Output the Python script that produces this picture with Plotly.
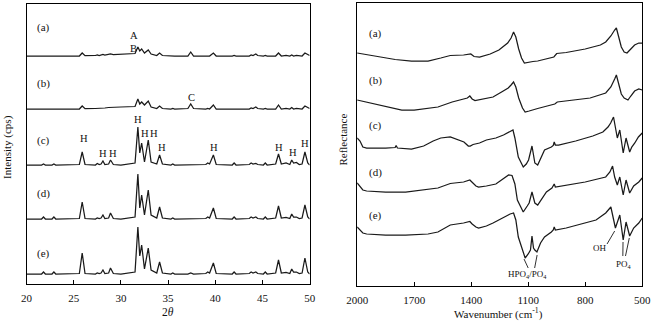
import plotly.graph_objects as go

# ---------------- XRD data (left panel) ----------------
two_theta = [20.0, 21.6, 21.8, 22.0, 22.7, 22.9, 23.1, 25.6, 25.9, 26.2,
             27.3, 27.5, 27.7, 27.9, 28.1, 28.3, 28.7, 28.9, 29.2, 30.0,
             31.5, 31.8, 32.0, 32.2, 32.5, 32.9, 33.2, 33.8, 34.1, 34.4,
             35.3, 35.5, 35.7, 37.1, 37.4, 37.7, 39.0, 39.2, 39.4, 39.8,
             40.1, 41.8, 42.0, 42.2, 43.6, 43.8, 44.0, 44.3, 44.5, 45.1,
             45.3, 45.5, 46.4, 46.7, 47.0, 47.5, 47.9, 48.1, 48.3, 48.6,
             48.9, 49.2, 49.5, 49.8, 50.0]

xrd_a = [0, 0, 0.5, 0, 0, 0.5, 0, 0, 3, 0.3,
         0.5, 1, 0.5, 1, 1.5, 1, 1.5, 2, 1.5, 2,
         2.5, 9, 5, 7, 3, 6, 2, 0.5, 3, 0.5,
         0, 0.5, 0, 0, 4, 0, 0, 0.5, 0, 3,
         0, 0, 0.5, 0, 0, 1, 0.5, 2, 0.5, 0,
         0.5, 0, 0, 3, 0, 0.5, 0, 1, 0, 0.5,
         0, 0, 3, 1, 0.5]
xrd_b = [0, 0, 0.5, 0, 0, 0.5, 0, 0, 3, 0.3,
         0.5, 0.5, 0.5, 1, 1, 1, 1.5, 1.5, 1.5, 2,
         2.5, 10, 5, 7, 4, 8, 2, 0.5, 3, 0.5,
         0, 0.5, 0, 0.5, 5, 0.5, 0, 0.5, 0, 4,
         0, 0, 0.5, 0, 0, 1, 0.5, 2, 0.5, 0,
         0.5, 0, 0, 4, 0, 0.5, 0, 1.5, 0, 0.5,
         0, 0, 3, 1, 0.5]
xrd_c = [0, 0, 1, 0, 0, 1, 0, 0.5, 13, 0.5,
         0, 1.5, 0.5, 1, 4, 0.5, 1, 5, 0.5, 0,
         2, 38, 12, 22, 3, 25, 3, 1, 10, 1,
         0, 1, 0, 0, 0.5, 0, 0.5, 2, 1, 10,
         0.5, 0, 2, 0, 0.5, 2, 1, 1.5, 0.5, 0,
         2, 0, 1, 11, 1, 2, 0.5, 5, 2, 2.5,
         0.5, 1, 13, 2, 0]
xrd_d = [0, 0, 2, 0, 0, 2, 0, 0.5, 17, 0.5,
         0, 1, 0.5, 1, 4, 0.5, 1, 6, 0.5, 0,
         2, 45, 11, 24, 4, 29, 4, 1, 12, 1,
         0, 1, 0, 0, 0.5, 0, 0.5, 2, 1, 11,
         0.5, 0, 2, 0, 0.5, 2, 1, 2, 0.5, 0,
         2, 0, 1, 13, 1, 1.5, 0.5, 5, 2, 2,
         0.5, 1, 14, 2, 0]
xrd_e = [0, 0, 2, 0, 0, 2, 0, 0.5, 21, 0.5,
         0, 1, 0.5, 1, 4, 0.5, 1, 6, 0.5, 0,
         2, 47, 18, 29, 5, 26, 4, 1, 12, 1,
         0, 1, 0, 0, 1, 0, 0.5, 2, 1, 11,
         0.5, 0, 2, 0, 0.5, 2, 1, 2, 0.5, 0,
         2, 0, 1, 14, 1, 1.5, 0.5, 5, 2, 2,
         0.5, 1, 16, 2, 0]
xrd_series = [xrd_a, xrd_b, xrd_c, xrd_d, xrd_e]
xrd_offsets = [228, 175, 119, 65, 10]
sample_labels = ["(a)", "(b)", "(c)", "(d)", "(e)"]

h_theta = [26.05, 28.1, 29.15, 31.8, 32.55, 33.55, 34.35, 39.85, 46.8, 48.25, 49.5]
h_level = [146, 131, 131, 165, 151, 151, 137, 137, 137, 132, 141]

# ---------------- IR data (right panel) ----------------
ir_a_x = [2000, 1900, 1800, 1714, 1627, 1560, 1510, 1440, 1402, 1385, 1356, 1300, 1254, 1208, 1190,
          1177, 1165, 1150, 1135, 1120, 1100, 1075, 1050, 1000, 965, 950, 900, 800, 720, 692, 665,
          645, 636, 625, 610, 595, 580, 560, 540, 518, 500]
ir_a_y = [233, 229.5, 226.5, 225, 225, 228, 230.5, 231, 232, 229.5, 229, 232, 236, 243, 248,
          254, 249, 237, 228, 223, 224, 224.5, 225, 227, 229, 232.5, 233.5, 237, 241, 244, 250,
          256, 258, 250, 239, 234, 233, 237, 241, 243, 243]

ir_b_x = [2000, 1900, 1765, 1700, 1575, 1500, 1458, 1420, 1407, 1395, 1380, 1340, 1285, 1240, 1205,
          1190, 1177, 1165, 1150, 1130, 1116, 1095, 1080, 1050, 1000, 960, 947, 900, 774, 692, 665,
          645, 636, 625, 610, 595, 585, 575, 560, 540, 518, 500]
ir_b_y = [186, 182, 176, 176, 179, 184, 186, 188, 190, 187, 185.5, 187, 189, 194, 198,
          201, 204, 199, 188, 178, 174, 175, 176, 177.5, 180, 182, 184, 185, 188, 193, 199,
          207, 211, 203, 192, 188, 187, 186, 190, 195, 197, 196]

ir_c_x = [2000, 1985, 1970, 1950, 1850, 1800, 1795, 1788, 1714, 1650, 1600, 1560, 1510, 1470, 1438,
          1415, 1405, 1390, 1356, 1320, 1270, 1230, 1200, 1180, 1170, 1152, 1126, 1110, 1098, 1088,
          1080, 1072, 1065, 1050, 1030, 1014, 978, 968, 963, 957, 940, 850, 760, 707, 680, 666,
          651, 640, 631, 618, 600, 585, 566, 555, 539, 520, 500]
ir_c_y = [148, 145, 139, 138, 138, 138.5, 140.5, 138, 137, 140, 145, 148, 149, 146.5, 144,
          140, 140, 141.5, 143, 146, 148, 151, 154, 156, 148, 129, 119, 122, 126, 134,
          140, 131, 123, 121, 129, 136, 139, 140.5, 144, 141, 141, 145, 150, 154, 159, 163,
          169, 158, 148, 156, 133, 148, 134, 139, 143, 149, 153]

ir_d_x = [2000, 1985, 1970, 1950, 1850, 1745, 1650, 1575, 1510, 1440, 1407, 1395, 1375, 1361, 1320,
          1270, 1230, 1203, 1185, 1170, 1157, 1126, 1105, 1095, 1080, 1072, 1065, 1050, 1030, 1004,
          975, 963, 957, 900, 800, 692, 670, 656, 645, 631, 618, 600, 585, 566, 545, 518, 500]
ir_d_y = [103, 100, 96, 95, 94, 94, 96, 98, 102.5, 104, 106, 104, 100, 99, 100,
          102, 107, 111, 110.5, 102, 86, 74, 80, 83, 94, 86, 83, 81, 87, 94,
          98, 102, 99, 101, 104, 109, 114, 120, 109, 101, 109, 91, 106, 93, 100, 104, 108]

ir_e_x = [2000, 1985, 1970, 1950, 1850, 1745, 1627, 1575, 1510, 1440, 1407, 1395, 1375, 1361, 1320,
          1285, 1230, 1195, 1177, 1165, 1152, 1130, 1116, 1100, 1088, 1080, 1072, 1065, 1054, 1035,
          1014, 978, 968, 963, 957, 900, 800, 743, 692, 680, 665, 641, 618, 600, 585, 566, 545,
          518, 500]
ir_e_y = [59, 56, 53, 52, 51, 51, 52, 54, 61, 63, 64.5, 62, 59, 58, 60,
          63, 69, 72, 73, 66, 49, 36, 28, 32, 36, 50, 38, 36, 34, 43,
          49, 54, 56, 59, 56, 58, 63, 66, 73, 76, 79, 58, 71, 46, 64, 50, 58,
          63, 68]

ir_series = [(ir_a_x, ir_a_y), (ir_b_x, ir_b_y), (ir_c_x, ir_c_y), (ir_d_x, ir_d_y), (ir_e_x, ir_e_y)]
ir_label_level = [253, 206, 161, 114, 71]
xrd_label_level = [257, 201, 144, 91, 31]

FONT = "Liberation Serif"
LINE = "#1a1a1a"
TXT = "#111111"

fig = go.Figure()

for ys, off in zip(xrd_series, xrd_offsets):
    fig.add_trace(go.Scatter(x=two_theta, y=[v + off for v in ys], mode="lines",
                             line=dict(color=LINE, width=1.25), xaxis="x", yaxis="y",
                             showlegend=False, hoverinfo="skip"))

for xs, ys in ir_series:
    fig.add_trace(go.Scatter(x=xs, y=ys, mode="lines", line=dict(color=LINE, width=1.25),
                             xaxis="x2", yaxis="y2", showlegend=False, hoverinfo="skip"))


def label(x, y, text, size, xref, yref, **kw):
    d = dict(x=x, y=y, xref=xref, yref=yref, text=text, showarrow=False,
             xanchor="center", yanchor="middle", font=dict(size=size, color=TXT, family=FONT))
    d.update(kw)
    return d


ann = []
for lab, lv in zip(sample_labels, xrd_label_level):
    ann.append(label(21.8, lv, lab, 11, "x", "y"))
for lab, lv in zip(sample_labels, ir_label_level):
    ann.append(label(1905, lv, lab, 11, "x2", "y2"))
for th, lv in zip(h_theta, h_level):
    ann.append(label(th, lv, "H", 10.5, "x", "y"))
ann += [
    label(31.4, 249, "A", 10.5, "x", "y"),
    label(31.3, 236, "B", 10.5, "x", "y"),
    label(37.5, 187, "C", 10.5, "x", "y"),
    label(1101, 12, "HPO<sub>4</sub>/PO<sub>4</sub>", 9, "x2", "y2"),
    label(723, 38, "OH", 9, "x2", "y2"),
    label(595, 22, "PO<sub>4</sub>", 9, "x2", "y2"),
    # axis titles
    label(162 / 658, (321 - 312) / 321, "2<i>θ</i>", 11.5, "paper", "paper"),
    label(503 / 658, (321 - 313) / 321, "Wavenumber (cm<sup>-1</sup>)", 11, "paper", "paper"),
    label(2 / 658, (321 - 147) / 321, "Intensity (cps)", 11, "paper", "paper", textangle=-90,
          xshift=-6),
    label(343 / 658, (321 - 140) / 321, "Reflectance", 11, "paper", "paper", textangle=-90,
          xshift=-1),
]

leader = dict(color=LINE, width=0.9)
shapes = [
    dict(type="line", xref="x2", yref="y2", x0=1100, y0=18, x1=1122, y1=27, line=leader),
    dict(type="line", xref="x2", yref="y2", x0=1066, y0=18, x1=1053, y1=31, line=leader),
    dict(type="line", xref="x2", yref="y2", x0=685, y0=42, x1=645, y1=55, line=leader),
    dict(type="line", xref="x2", yref="y2", x0=602, y0=30, x1=601, y1=44, line=leader),
    dict(type="line", xref="x2", yref="y2", x0=588, y0=30, x1=568, y1=48, line=leader),
]

axis_common = dict(showline=True, linecolor="black", linewidth=1.3, mirror=True,
                   showgrid=False, zeroline=False, tickcolor="black", tickwidth=1,
                   tickfont=dict(size=11, color=TXT, family=FONT))

fig.update_layout(
    width=658, height=321, margin=dict(l=0, r=0, t=0, b=0),
    paper_bgcolor="white", plot_bgcolor="white",
    font=dict(family=FONT, color=TXT),
    xaxis=dict(domain=[16 / 658, 308 / 658], range=[20, 50], tickvals=[20, 25, 30, 35, 40, 45, 50],
               anchor="y", ticks="inside", ticklen=4, ticklabelstandoff=4, **axis_common),
    yaxis=dict(domain=[(321 - 284) / 321, (321 - 4) / 321], range=[0, 280], anchor="x",
               showticklabels=False, ticks="", **axis_common),
    xaxis2=dict(domain=[357 / 658, 651 / 658], range=[2000, 500],
                tickvals=[2000, 1700, 1400, 1100, 800, 500], anchor="y2",
                ticks="inside", ticklen=4, ticklabelstandoff=4, **axis_common),
    yaxis2=dict(domain=[(321 - 286) / 321, (321 - 3) / 321], range=[0, 283], anchor="x2",
                showticklabels=False, ticks="", **axis_common),
    annotations=ann, shapes=shapes,
)

fig.write_html("out.html")
